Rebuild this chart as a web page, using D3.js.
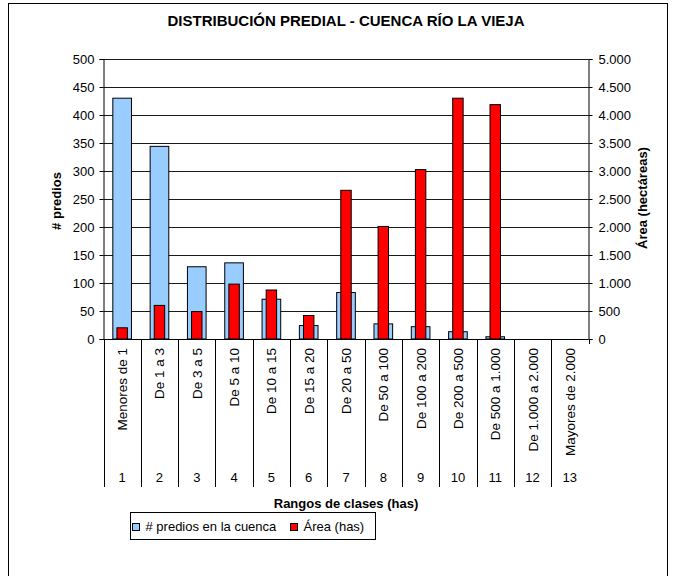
<!DOCTYPE html>
<html>
<head>
<meta charset="utf-8">
<script src="https://cdn.jsdelivr.net/npm/d3@7"></script>
<style>
  html, body { margin: 0; padding: 0; background: #fff; }
  svg { display: block; font-family: "Liberation Sans", Arial, sans-serif; }
</style>
</head>
<body>
<svg id="chart" width="676" height="576"></svg>
<script>
// ---- data ----
const categories = ["Menores de 1", "De 1 a 3", "De 3 a 5", "De 5 a 10", "De 10 a 15", "De 15 a 20",
  "De 20 a 50", "De 50 a 100", "De 100 a 200", "De 200 a 500", "De 500 a 1.000", "De 1.000 a 2.000", "Mayores de 2.000"];
const categoryNumbers = ["1","2","3","4","5","6","7","8","9","10","11","12","13"];
const predios = [430, 344, 129, 136, 71, 24, 83, 27, 22, 13, 4, 0, 0];
const area = [200, 600, 490, 980, 875, 420, 2655, 2010, 3025, 4300, 4185, 0, 0];
const leftTicks = [0, 50, 100, 150, 200, 250, 300, 350, 400, 450, 500];
const rightTicks = [0, 500, 1000, 1500, 2000, 2500, 3000, 3500, 4000, 4500, 5000];
const seriesNames = ["# predios en la cuenca", "Área (has)"];
const seriesColors = ["#99CCFF", "#FF0000"];

// ---- layout ----
const svg = d3.select("#chart");
const L = 103.5, R = 588.5, T = 59, B = 339;
const locale = d3.formatLocale({decimal: ",", thousands: ".", grouping: [3], currency: ["$", ""]});
const fmt = locale.format(",");

const x = d3.scaleBand().domain(d3.range(categories.length)).range([L, R]).paddingInner(0).paddingOuter(0);
const yL = d3.scaleLinear().domain([0, 500]).range([B, T]);
const yR = d3.scaleLinear().domain([0, 5000]).range([B, T]);

// outer frame
svg.append("rect").attr("x", 8.5).attr("y", 3.5).attr("width", 659).attr("height", 620)
  .attr("fill", "none").attr("stroke", "#000").attr("stroke-width", 1);

// title
svg.append("text").attr("x", 346).attr("y", 26).attr("text-anchor", "middle")
  .attr("font-size", "15px").attr("font-weight", "bold").text("DISTRIBUCIÓN PREDIAL - CUENCA RÍO LA VIEJA");

// gridlines
svg.append("g").selectAll("line").data(leftTicks.filter(d => d > 0)).join("line")
  .attr("x1", L).attr("x2", R)
  .attr("y1", d => Math.round(yL(d)) + 0.5).attr("y2", d => Math.round(yL(d)) + 0.5)
  .attr("stroke", "#1a1a1a").attr("stroke-width", 1);

// bars
const bw1 = x.bandwidth() * 0.5, bw2 = x.bandwidth() * 0.28;
svg.append("g").selectAll("rect").data(predios).join("rect")
  .attr("x", (d, i) => x(i) + (x.bandwidth() - bw1) / 2)
  .attr("width", bw1)
  .attr("y", d => yL(d))
  .attr("height", d => B - yL(d))
  .attr("fill", seriesColors[0]).attr("stroke", d => d > 0 ? "#000" : "none").attr("stroke-width", 1);
svg.append("g").selectAll("rect").data(area).join("rect")
  .attr("x", (d, i) => x(i) + (x.bandwidth() - bw2) / 2)
  .attr("width", bw2)
  .attr("y", d => yR(d))
  .attr("height", d => B - yR(d))
  .attr("fill", seriesColors[1]).attr("stroke", d => d > 0 ? "#000" : "none").attr("stroke-width", 1);

// left axis
const axL = svg.append("g").attr("transform", `translate(${L},0)`)
  .call(d3.axisLeft(yL).tickValues(leftTicks).tickSize(4).tickPadding(5).tickFormat(fmt));
axL.select(".domain").attr("stroke", "#000");
axL.selectAll("text").attr("font-size", "13px").attr("font-family", "Liberation Sans, Arial, sans-serif").attr("fill", "#000");

// right axis
const axR = svg.append("g").attr("transform", `translate(${R},0)`)
  .call(d3.axisRight(yR).tickValues(rightTicks).tickSize(4).tickPadding(6).tickFormat(fmt));
axR.select(".domain").attr("stroke", "#000");
axR.selectAll("text").attr("font-size", "13px").attr("font-family", "Liberation Sans, Arial, sans-serif").attr("fill", "#000");

// category axis (multi-level)
svg.append("line").attr("x1", L).attr("x2", R).attr("y1", B + 0.5).attr("y2", B + 0.5).attr("stroke", "#000");
const bounds = d3.range(categories.length + 1);
svg.append("g").selectAll("line").data(bounds).join("line")
  .attr("x1", i => Math.round(i < categories.length ? x(i) : R) + 0.5)
  .attr("x2", i => Math.round(i < categories.length ? x(i) : R) + 0.5)
  .attr("y1", B)
  .attr("y2", i => i < categories.length ? 487 : B + 5)
  .attr("stroke", "#000");

svg.append("g").selectAll("text").data(categories).join("text")
  .attr("transform", (d, i) => `translate(${x(i) + x.bandwidth() / 2 + 5},348) rotate(-90)`)
  .attr("text-anchor", "end").attr("font-size", "13.5px").text(d => d);

svg.append("g").selectAll("text").data(categoryNumbers).join("text")
  .attr("x", (d, i) => x(i) + x.bandwidth() / 2).attr("y", 482)
  .attr("text-anchor", "middle").attr("font-size", "13px").text(d => d);

// axis titles
svg.append("text").attr("transform", "translate(61,201) rotate(-90)").attr("text-anchor", "middle")
  .attr("font-size", "13px").attr("font-weight", "bold").text("# predios");
svg.append("text").attr("transform", "translate(647,198) rotate(-90)").attr("text-anchor", "middle")
  .attr("font-size", "13px").attr("font-weight", "bold").text("Área (hectáreas)");
svg.append("text").attr("x", 346).attr("y", 508).attr("text-anchor", "middle")
  .attr("font-size", "13px").attr("font-weight", "bold").text("Rangos de clases (has)");

// legend
const lg = svg.append("g");
lg.append("rect").attr("x", 130.5).attr("y", 512.5).attr("width", 245).attr("height", 27)
  .attr("fill", "#fff").attr("stroke", "#000");
const legX = [132.5, 290.5];
seriesNames.forEach((name, i) => {
  lg.append("rect").attr("x", legX[i]).attr("y", 523.5).attr("width", 7).attr("height", 7)
    .attr("fill", seriesColors[i]).attr("stroke", "#000");
  lg.append("text").attr("x", legX[i] + 13).attr("y", 531).attr("font-size", "13px").text(name);
});
</script>
</body>
</html>
